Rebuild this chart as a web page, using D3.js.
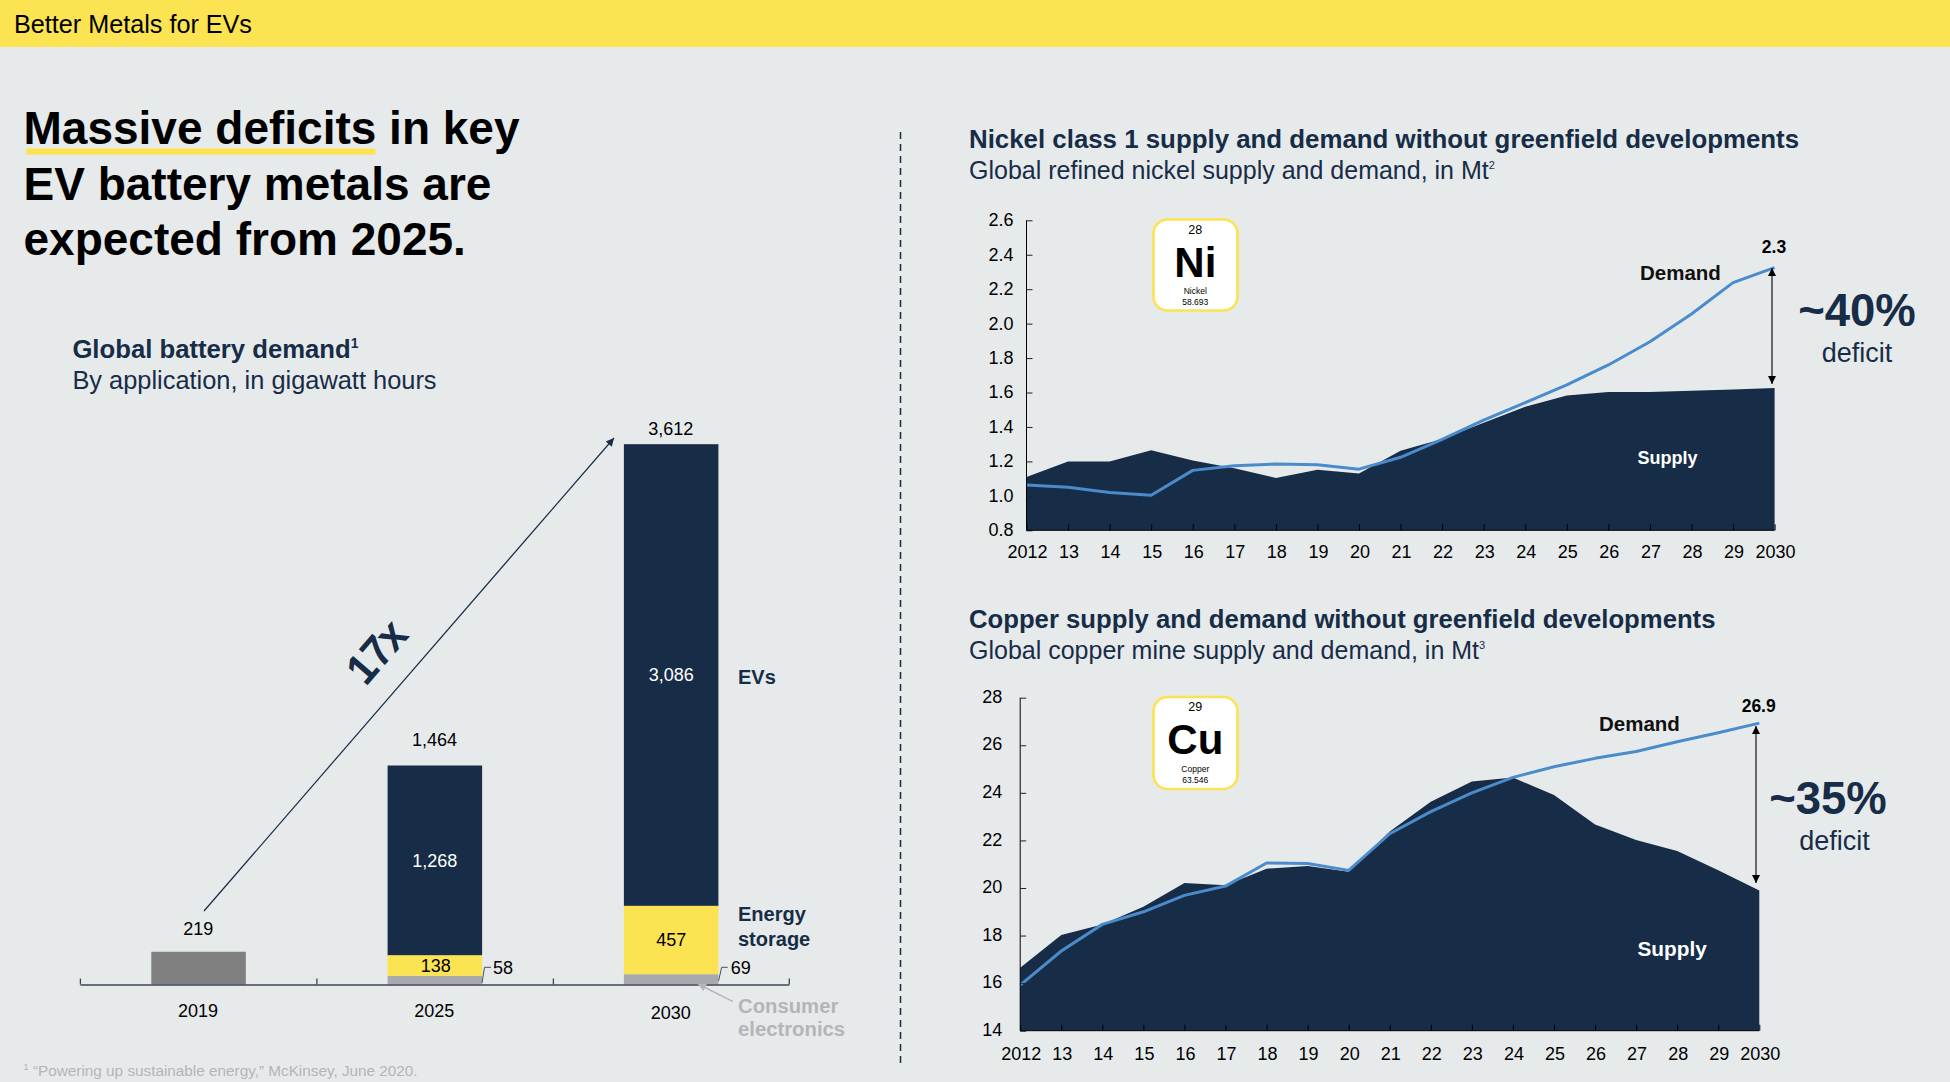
<!DOCTYPE html>
<html><head><meta charset="utf-8">
<script src="https://cdn.jsdelivr.net/npm/d3@7"></script>
<style>
html,body{margin:0;padding:0;background:#E7EAEB;overflow:hidden}
svg{display:block}
text{font-family:"Liberation Sans",Arial,sans-serif}
</style></head><body>
<svg id="c" width="1950" height="1082"></svg>
<script>
// ---------- data ----------
const barYears = ["2019","2025","2030"];
const consumerValues = [219,58,69];
const storageValues = [0,138,457];
const evValues = [0,1268,3086];
const barTotals = [219,1464,3612];

const lineYears = [2012,2013,2014,2015,2016,2017,2018,2019,2020,2021,2022,2023,2024,2025,2026,2027,2028,2029,2030];
const yearLabels = ["2012","13","14","15","16","17","18","19","20","21","22","23","24","25","26","27","28","29","2030"];

const nickelSupply = [1.11,1.20,1.20,1.265,1.205,1.16,1.104,1.152,1.13,1.262,1.33,1.425,1.518,1.582,1.603,1.603,1.61,1.618,1.626];
const nickelDemand = [1.063,1.05,1.02,1.003,1.148,1.175,1.185,1.18,1.155,1.224,1.328,1.44,1.541,1.644,1.76,1.895,2.056,2.238,2.325];
const nickelTicks = [0.8,1.0,1.2,1.4,1.6,1.8,2.0,2.2,2.4,2.6];

const copperSupply = [16.65,18.02,18.47,19.21,20.21,20.11,20.81,20.92,20.68,22.37,23.63,24.48,24.64,23.91,22.67,22.02,21.55,20.75,19.89];
const copperDemand = [15.92,17.35,18.47,19.0,19.69,20.08,21.05,21.03,20.74,22.28,23.21,24.0,24.65,25.1,25.45,25.74,26.15,26.53,26.93];
const copperTicks = [14,16,18,20,22,24,26,28];

// ---------- palette ----------
const NAVY="#172C47", YEL="#FBE351", GREY="#A7A9AC", DGREY="#808080", LGREY="#B3B5B8", BLUE="#4A8CCB", INK="#000";

const svg=d3.select("#c");
svg.append("rect").attr("width",1950).attr("height",1082).attr("fill","#E7EAEB");
const defs=svg.append("defs");
function marker(id,color,w,h){
  defs.append("marker").attr("id",id).attr("viewBox","0 0 10 10").attr("refX",10).attr("refY",5)
   .attr("markerUnits","userSpaceOnUse").attr("markerWidth",w).attr("markerHeight",h).attr("orient","auto-start-reverse")
   .append("path").attr("d","M0,0L10,5L0,10Z").attr("fill",color);
}
marker("aNavy",NAVY,10,8); marker("aBlack","#000",10,8); marker("aGrey",LGREY,10,8);

function T(x,y,s,o={}){
  const t=svg.append("text").attr("x",x).attr("y",y)
    .attr("font-size",o.size||18).attr("fill",o.fill||INK)
    .attr("font-weight",o.bold?"bold":"normal").attr("text-anchor",o.anchor||"start");
  t.append("tspan").text(s);
  if(o.sup) t.append("tspan").attr("font-size",o.supSize||(o.size||18)*0.55).attr("dy",-(o.size||18)*0.38).attr("font-weight",o.supBold?"bold":"normal").text(o.sup);
  return t;
}

// header
svg.append("rect").attr("width",1950).attr("height",47).attr("fill",YEL);
T(14,33,"Better Metals for EVs",{size:25.2});

// headline
svg.append("rect").attr("x",26.4).attr("y",148.4).attr("width",349).attr("height",6.2).attr("fill",YEL);
T(23.5,143.6,"Massive deficits in key",{size:46,bold:true});
T(23.5,199.7,"EV battery metals are",{size:46,bold:true});
T(23.5,254.8,"expected from 2025.",{size:46,bold:true});

// divider
svg.append("line").attr("x1",900.5).attr("x2",900.5).attr("y1",132).attr("y2",1067)
  .attr("stroke",NAVY).attr("stroke-width",1.5).attr("stroke-dasharray","7 5");

// ---------- bar chart ----------
T(72.4,358,"Global battery demand",{size:25.7,bold:true,fill:NAVY,sup:"1",supSize:14,supBold:true});
T(72.4,389,"By application, in gigawatt hours",{size:25.4,fill:NAVY});

const base=984.5;
const xBand=d3.scaleBand().domain(barYears).range([80.4,789.3]).paddingInner(0.6).paddingOuter(0.3);
const yBar=d3.scaleLinear().domain([0,3612]).range([base,444.2]);
const stackData=barYears.map((y,i)=>({year:y,consumer:consumerValues[i],storage:storageValues[i],ev:evValues[i]}));
const stack=d3.stack().keys(["consumer","storage","ev"])(stackData);
const fills={consumer:GREY,storage:YEL,ev:NAVY};
const barG=svg.append("g");
stack.forEach(s=>{
  barG.selectAll(null).data(s).join("rect")
    .attr("x",d=>xBand(d.data.year)).attr("width",xBand.bandwidth())
    .attr("y",d=>yBar(d[1])).attr("height",d=>yBar(d[0])-yBar(d[1]))
    .attr("fill",d=>d.data.year==="2019"?DGREY:fills[s.key]);
});
// axis
const axisG=svg.append("g").attr("stroke","#3c4654").attr("stroke-width",1.3);
axisG.append("line").attr("x1",80.4).attr("x2",789.3).attr("y1",base+.5).attr("y2",base+.5);
[80.4,316.9,553.4,789.3].forEach(x=>axisG.append("line").attr("x1",x).attr("x2",x).attr("y1",base).attr("y2",base-6));

const cx=y=>xBand(y)+xBand.bandwidth()/2;
barYears.forEach((y,i)=>T(cx(y)-.5,i===2?1019:1017,y,{anchor:"middle"}));
const totalDy=[-16.5,-19.5,-9.6];
barYears.forEach((y,i)=>T(cx(y)-.3,yBar(barTotals[i])+totalDy[i],d3.format(",")(barTotals[i]),{anchor:"middle"}));
T(cx("2025"),867.3,d3.format(",")(evValues[1]),{anchor:"middle",fill:"#fff"});
T(cx("2030"),681,d3.format(",")(evValues[2]),{anchor:"middle",fill:"#fff"});
T(cx("2025")+1,972,String(storageValues[1]),{anchor:"middle"});
T(cx("2030"),946,String(storageValues[2]),{anchor:"middle"});
T(493,974,String(consumerValues[1]));
T(730.8,974,String(consumerValues[2]));
const leader=(a,b,c,d,e)=>svg.append("path").attr("d",`M${a},${b}L${c},${d}H${e}`).attr("fill","none").attr("stroke","#4a4f57").attr("stroke-width",1);
leader(482,983,484.5,967.3,491);
leader(718.5,981,721.7,967.3,727.7);
T(738,683.9,"EVs",{size:20,bold:true,fill:NAVY});
T(738,920.5,"Energy",{size:20,bold:true,fill:NAVY});
T(738,945.5,"storage",{size:20,bold:true,fill:NAVY});
T(738,1012.7,"Consumer",{size:20.3,bold:true,fill:LGREY});
T(738,1036,"electronics",{size:20.3,bold:true,fill:LGREY});
svg.append("line").attr("x1",733).attr("y1",1001.7).attr("x2",698).attr("y2",984).attr("stroke",LGREY).attr("stroke-width",1.5).attr("marker-end","url(#aGrey)");
svg.append("line").attr("x1",204).attr("y1",911).attr("x2",614).attr("y2",438).attr("stroke",NAVY).attr("stroke-width",1.2).attr("marker-end","url(#aNavy)");
svg.append("text").attr("transform","translate(376,652) rotate(-49)").attr("text-anchor","middle").attr("dy","0.35em")
  .attr("font-size",41).attr("fill",NAVY).text("17x").attr("stroke",NAVY).attr("stroke-width",1.8);
T(33,1075.8,"“Powering up sustainable energy,” McKinsey, June 2020.",{size:15.3,fill:LGREY});
T(23.5,1070,"1",{size:9,fill:LGREY});

// ---------- line/area charts ----------
function chart(o){
  const x=d3.scaleLinear().domain([2012,2030]).range([o.x0,o.x1]);
  const y=d3.scaleLinear().domain(o.domain).range([o.y0,o.y1]);
  T(969,o.titleY,o.title,{size:o.titleSize,bold:true,fill:NAVY});
  T(969,o.titleY+31.3,o.sub,{size:25,fill:NAVY,sup:o.sup,supSize:11});
  const g=svg.append("g");
  g.append("path").datum(o.supply).attr("fill",NAVY)
    .attr("d",d3.area().x((d,i)=>x(lineYears[i])).y0(o.y0).y1(d=>y(d)));
  g.append("path").datum(o.demand).attr("fill","none").attr("stroke",BLUE).attr("stroke-width",3)
    .attr("stroke-linejoin","round").attr("d",d3.line().x((d,i)=>x(lineYears[i])).y(d=>y(d)));
  // axes
  const ax=d3.axisLeft(y).tickValues(o.ticks).tickSize(-6).tickPadding(o.yPad).tickFormat(o.fmt);
  const ag=g.append("g").attr("transform",`translate(${o.x0},0)`).call(ax);
  ag.select(".domain").attr("stroke","#000").attr("d",`M0,${o.y1}V${o.y0}`);
  ag.selectAll("line").attr("stroke","#222");
  ag.selectAll("text").attr("font-size",18).attr("font-family",'"Liberation Sans"').attr("fill","#000").attr("dy",o.yDy);
  const bx=d3.axisBottom(x).tickValues(lineYears).tickSize(-6).tickPadding(o.xPad).tickFormat((d,i)=>yearLabels[i]);
  const bg=g.append("g").attr("transform",`translate(0,${o.y0})`).call(bx);
  bg.select(".domain").attr("stroke","#000").attr("d",`M${o.x0},0H${o.x1}`);
  bg.selectAll("line").attr("stroke","#000");
  bg.selectAll("text").attr("font-size",18).attr("font-family",'"Liberation Sans"').attr("fill","#000").attr("dx","0.5");
  // annotations
  T(x(2030)+o.valDx,o.valY,o.valLabel,{size:17.5,bold:true,anchor:"middle"});
  T(o.demandX,o.demandY,"Demand",{size:20.5,bold:true,fill:"#101010"});
  T(1637.5,o.supplyY,"Supply",{size:o.supplySize,bold:true,fill:"#fff"});
  svg.append("line").attr("x1",o.arrX).attr("x2",o.arrX).attr("y1",o.arrTop).attr("y2",o.arrBot)
    .attr("stroke","#000").attr("stroke-width",1.1).attr("marker-start","url(#aBlack)").attr("marker-end","url(#aBlack)");
  T(o.pctX,o.pctY,o.pct,{size:45.5,bold:true,fill:NAVY,anchor:"middle"});
  T(o.defX,o.pctY+35.5,"deficit",{size:27,fill:NAVY,anchor:"middle"});
  // element card
  const cxx=1195.3;
  svg.append("rect").attr("x",1153.5).attr("y",o.cardY).attr("width",84).attr("height",o.cardH).attr("rx",14)
    .attr("fill","#fff").attr("stroke",YEL).attr("stroke-width",2.6);
  T(cxx,o.cardY+14,o.el[0],{size:12.5,anchor:"middle"});
  T(cxx,o.cardY+57,o.el[1],{size:42,bold:true,anchor:"middle"});
  T(cxx,o.cardY+74.5,o.el[2],{size:8.5,anchor:"middle"});
  T(cxx,o.cardY+85.5,o.el[3],{size:8.5,anchor:"middle"});
}
chart({x0:1026.5,x1:1774.6,y0:530.3,y1:220.3,domain:[0.8,2.6],ticks:nickelTicks,fmt:d3.format(".1f"),yPad:13,xPad:14.8,yDy:"0.3em",
  titleY:147.5,titleSize:25.85,title:"Nickel class 1 supply and demand without greenfield developments",sub:"Global refined nickel supply and demand, in Mt",sup:"2",
  supply:nickelSupply,demand:nickelDemand,valLabel:"2.3",valDx:-.6,valY:252.7,demandX:1640,demandY:279.5,supplyY:464,supplySize:18,
  arrX:1772,arrTop:268,arrBot:384,pct:"~40%",pctX:1857,pctY:326,defX:1857,cardY:219.5,cardH:91,el:["28","Ni","Nickel","58.693"]});
chart({x0:1020.2,x1:1759.3,y0:1030.7,y1:697.7,domain:[14,28],ticks:copperTicks,fmt:d3.format("d"),yPad:18,xPad:16.5,yDy:"0.26em",
  titleY:627.5,titleSize:25.7,title:"Copper supply and demand without greenfield developments",sub:"Global copper mine supply and demand, in Mt",sup:"3",
  supply:copperSupply,demand:copperDemand,valLabel:"26.9",valDx:-.6,valY:712,demandX:1599,demandY:730.5,supplyY:956,supplySize:20.8,
  arrX:1756,arrTop:726,arrBot:883,pct:"~35%",pctX:1828,pctY:814,defX:1834.6,cardY:697,cardH:92,el:["29","Cu","Copper","63.546"]});
</script>
</body></html>
